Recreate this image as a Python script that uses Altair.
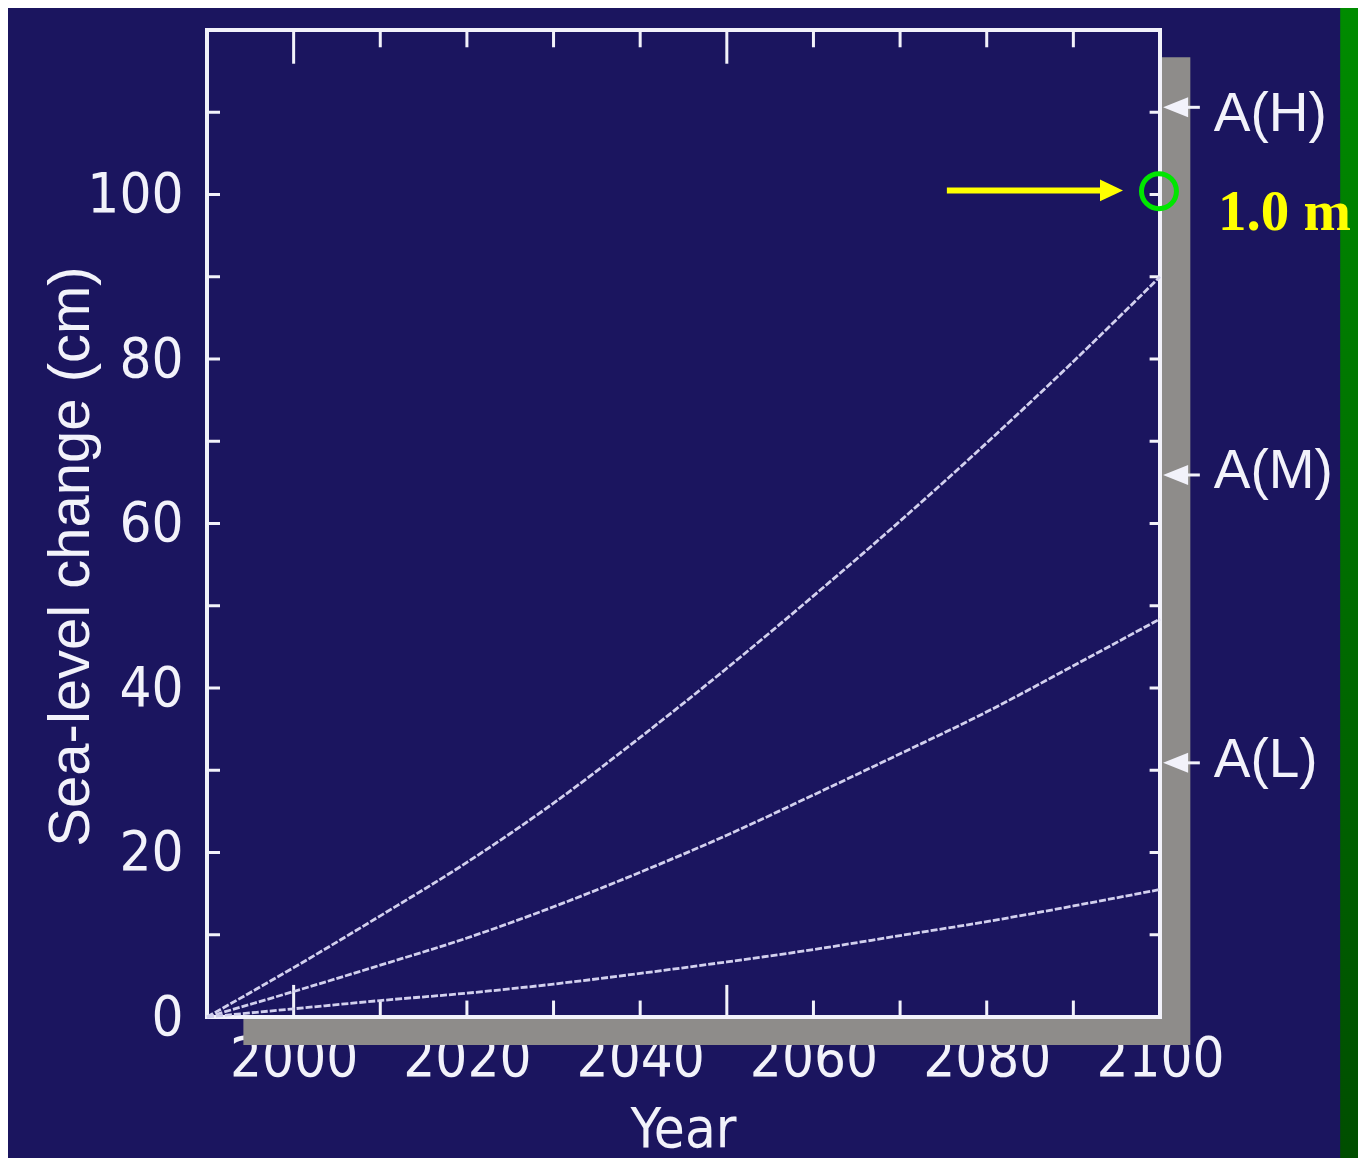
import altair as alt
import pandas as pd

# ---------------- data ----------------
years = [1990, 2000, 2010, 2020, 2030, 2040, 2050, 2060, 2070, 2080, 2090, 2100]
high = [0, 6.0, 12.3, 18.8, 26.0, 34.0, 42.4, 51.2, 60.3, 69.8, 79.7, 90.0]
mid = [0, 3.1, 6.3, 9.6, 13.4, 17.6, 22.1, 27.0, 32.0, 37.1, 42.7, 48.4]
low = [0, 1.0, 2.0, 2.9, 4.0, 5.3, 6.7, 8.2, 9.9, 11.6, 13.5, 15.5]

x_label_values = [2000, 2020, 2040, 2060, 2080, 2100]
y_label_values = [0, 20, 40, 60, 80, 100]
x_major_ticks = [2000, 2050]
x_minor_ticks = [2010, 2020, 2030, 2040, 2060, 2070, 2080, 2090]
y_ticks = [10, 20, 30, 40, 50, 60, 70, 80, 90, 100, 110]

scenario_labels = ["A(H)", "A(M)", "A(L)"]
scenario_arrow_values = [110.6, 65.9, 30.9]
scenario_text_values = [107.7, 64.3, 29.2]

highlight_value = 100.5
highlight_label = "1.0 m"

# ---------------- styling constants ----------------
NAVY = "#1b155f"
WHITE = "#f2f2fa"
LINE = "#d2d0ee"
GREY = "#8e8c8a"
YELLOW = "#ffff00"
NARROW = "DejaVu Sans Condensed, sans-serif"
SANS = "Liberation Sans, Arial, sans-serif"

X0, X1 = 1990, 2100
Y0, Y1 = 0, 120
xs = alt.Scale(domain=[X0, X1], nice=False, zero=False)
ys = alt.Scale(domain=[Y0, Y1], nice=False, zero=False)

X_AX = alt.Axis(
    values=x_label_values, format="d", ticks=False, domain=False, grid=False,
    labelFont=NARROW, labelFontSize=56, labelColor=WHITE, labelPadding=14,
    labelFlush=False, labelOverlap=False,
    title="Year", titleFont=NARROW, titleFontSize=56, titleColor=WHITE,
    titleFontWeight="normal", titleX=476, titleY=129, titleBaseline="alphabetic",
    titleAlign="center")
Y_AX = alt.Axis(
    values=y_label_values, format="d", ticks=False, domain=False, grid=False,
    labelFont=NARROW, labelFontSize=56, labelColor=WHITE, labelPadding=24,
    labelFlush=False, labelOverlap=False,
    title="Sea-level change (cm)", titleFont=SANS, titleFontSize=58,
    titleColor=WHITE, titleFontWeight="normal", titleAngle=270,
    titleX=-119, titleY=526, titleBaseline="alphabetic", titleAlign="center")


def X(field):
    return alt.X(field, type="quantitative", scale=xs, axis=X_AX)


def Y(field):
    return alt.Y(field, type="quantitative", scale=ys, axis=Y_AX)


# ---------------- tables ----------------
lines_df = pd.DataFrame({
    "year": years * 3,
    "cm": high + mid + low,
    "scenario": ["high"] * len(years) + ["mid"] * len(years) + ["low"] * len(years),
})

ticks = []
for t in x_major_ticks:
    ticks.append({"x": t, "x2": t, "y": Y0, "y2": Y0 + 3.9})
    ticks.append({"x": t, "x2": t, "y": Y1, "y2": Y1 - 4.1})
for t in x_minor_ticks:
    ticks.append({"x": t, "x2": t, "y": Y0, "y2": Y0 + 2.0})
    ticks.append({"x": t, "x2": t, "y": Y1, "y2": Y1 - 2.1})
for t in y_ticks:
    ticks.append({"x": X0, "x2": X0 + 1.5, "y": t, "y2": t})
    ticks.append({"x": X1, "x2": X1 - 1.2, "y": t, "y2": t})
ticks_df = pd.DataFrame(ticks)

frame_df = pd.DataFrame([{"x": X0, "x2": X1, "y": Y0, "y2": Y1}])
shadow_df = pd.DataFrame([{"x": 1994.2, "x2": 2103.5, "y": -3.4, "y2": 116.7}])
strip_df = pd.DataFrame([{"x": 2120.8, "x2": 2130, "y": -25, "y2": 130}])

scen_arrow_df = pd.DataFrame({"label": scenario_labels, "cm": scenario_arrow_values,
                              "xh": [2101.8] * 3, "xa": [2102.9] * 3, "xb": [2104.6] * 3})
scen_text_df = pd.DataFrame({"label": scenario_labels, "cm": scenario_text_values,
                             "x": [2106.2] * 3})

hl_df = pd.DataFrame([{"cm": highlight_value, "xs": 2075.4, "xe": 2093.1, "xh": 2094.4,
                       "xc": 2099.88, "cmc": 100.4, "xt": 2106.7, "cmt": 95.7,
                       "label": highlight_label}])

# ---------------- layers ----------------
strip = alt.Chart(strip_df).mark_rect(
    fill=alt.Gradient(gradient="linear", x1=0, y1=0, x2=0, y2=1,
                      stops=[alt.GradientStop(color="#008f00", offset=0),
                             alt.GradientStop(color="#004a00", offset=1)])
).encode(x=X("x"), x2="x2", y=Y("y"), y2="y2")

shadow = alt.Chart(shadow_df).mark_rect(fill=GREY).encode(
    x=X("x"), x2="x2", y=Y("y"), y2="y2")

frame = alt.Chart(frame_df).mark_rect(fill=NAVY, stroke=WHITE, strokeWidth=4).encode(
    x=X("x"), x2="x2", y=Y("y"), y2="y2")

tick_rules = alt.Chart(ticks_df).mark_rule(color=WHITE, strokeWidth=3).encode(
    x=X("x"), x2="x2", y=Y("y"), y2="y2")

lines = alt.Chart(lines_df).mark_line(color=LINE, strokeWidth=2.8, strokeDash=[7, 2],
                                      interpolate="monotone").encode(
    x=X("year"), y=Y("cm"), detail="scenario:N")

scen_heads = alt.Chart(scen_arrow_df).mark_point(
    shape="M-1,0L1,-0.8L1,0.8Z", size=625, filled=True, fill=WHITE, opacity=1
).encode(x=X("xh"), y=Y("cm"))

scen_tails = alt.Chart(scen_arrow_df).mark_rule(color=WHITE, strokeWidth=3).encode(
    x=X("xa"), x2="xb", y=Y("cm"))

scen_text = alt.Chart(scen_text_df).mark_text(
    font=SANS, fontSize=55, color=WHITE, align="left", baseline="alphabetic"
).encode(x=X("x"), y=Y("cm"), text="label:N")

hl_shaft = alt.Chart(hl_df).mark_rule(color=YELLOW, strokeWidth=6).encode(
    x=X("xs"), x2="xe", y=Y("cm"))

hl_head = alt.Chart(hl_df).mark_point(
    shape="M1,0L-1,-0.95L-1,0.95Z", size=529, filled=True, fill=YELLOW, opacity=1
).encode(x=X("xh"), y=Y("cm"))

hl_circle = alt.Chart(hl_df).mark_point(
    shape="circle", size=1225, filled=False, stroke="#00e600", strokeWidth=5, opacity=1
).encode(x=X("xc"), y=Y("cmc"))

hl_text = alt.Chart(hl_df).mark_text(
    font="Liberation Serif, Times New Roman, serif", fontSize=57, fontWeight="bold",
    color=YELLOW, align="left", baseline="alphabetic"
).encode(x=X("xt"), y=Y("cmt"), text="label:N")

chart = alt.layer(
    strip, shadow, frame, tick_rules, lines, scen_heads, scen_tails, scen_text,
    hl_shaft, hl_head, hl_circle, hl_text
).properties(
    width=953, height=987,
    padding={"left": 199, "top": 22, "right": 198, "bottom": 141},
    autosize=alt.AutoSizeParams(type="none"),
    background=NAVY,
).configure_view(stroke=None)

chart.save("out.html", embed_options={"renderer": "svg", "actions": False})
